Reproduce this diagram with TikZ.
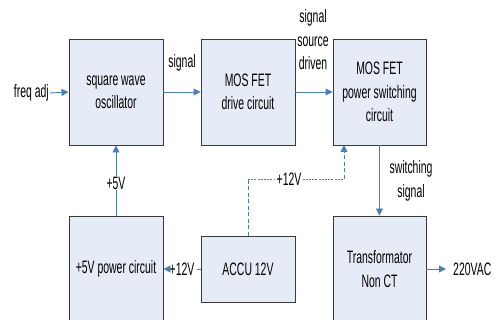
\documentclass[tikz,border=0pt]{standalone}
\usepackage{fontspec}
\setmainfont{Liberation Sans}[FakeStretch=0.58]
\usetikzlibrary{arrows.meta}
\definecolor{boxfill}{HTML}{E6ECF7}
\definecolor{boxline}{HTML}{3A3A3A}
\definecolor{arr}{HTML}{4A7EBB}
\tikzset{
  blk/.style={draw=boxline, fill=boxfill, line width=0.9pt, inner sep=0pt, align=center, font=\fontsize{18}{23.5}\selectfont},
  lab/.style={inner sep=1pt, align=center, font=\fontsize{18}{23.5}\selectfont},
  conn/.style={draw=arr, line width=0.9pt},
  tip/.style={-{Triangle[length=7pt,width=7pt]}},
  dsh/.style={dash pattern=on 4pt off 2.5pt},
  dot/.style={dash pattern=on 2pt off 1.2pt}
}
\begin{document}
\begin{tikzpicture}[x=1pt,y=-1pt]
\useasboundingbox (0,0) rectangle (499,320);
\clip (0,0) rectangle (499,320);
% blocks
\node[blk, minimum width=94pt, minimum height=106pt] (osc) at (116,92) {square wave\\oscillator};
\node[blk, minimum width=94pt, minimum height=106pt] (drv) at (248,92) {MOS FET\\drive circuit};
\node[blk, minimum width=93pt, minimum height=106pt] (pws) at (379.5,92) {MOS FET\\power switching\\circuit};
\node[blk, minimum width=94pt, minimum height=106pt] (psu) at (116,269) {+5V power circuit};
\node[blk, minimum width=94pt, minimum height=66pt] (acc) at (248,269) {ACCU 12V};
\node[blk, minimum width=93pt, minimum height=106pt] (trf) at (379.5,269) {Transformator\\Non CT};
% labels
\node[lab, anchor=east] (fa) at (50,93) {freq adj};
\node[lab] (sg) at (182,63) {signal};
\node[lab] (ssd) at (313,40) {signal\\source\\driven};
\node[lab] (v5) at (116,183) {+5V};
\node[lab] (v12a) at (289,179) {+12V};
\node[lab, inner sep=0.5pt] (v12b) at (182,269) {+12V};
\node[lab] (sws) at (411,181) {switching\\signal};
\node[lab, anchor=west] (ac) at (452,269) {220VAC};
\coordinate (oute) at (446,269);
\coordinate (c1) at (248,179);
\coordinate (c2) at (344,179);
\coordinate (c3) at (344,145);
% connectors
\draw[conn, tip] (fa.east) -- (osc.west);
\draw[conn, tip] (osc.east) -- (drv.west);
\draw[conn, tip] (drv.east) -- (pws.west);
\draw[conn] (psu.north) -- (v5.south);
\draw[conn, tip] (v5.north) -- (osc.south);
\draw[conn, dsh] (acc.north) -- (c1);
\draw[conn, dot] (c1) -- (v12a.west);
\draw[conn, dot] (v12a.east) -- (c2);
\draw[conn, dsh, tip] (c2) -- (c3);
\draw[conn, dsh] (acc.west) -- (v12b.east);
\draw[conn, tip] (v12b.west) -- (psu.east);
\draw[conn, tip] (pws.south) -- (trf.north);
\draw[conn, tip] (trf.east) -- (oute);
\end{tikzpicture}
\end{document}
